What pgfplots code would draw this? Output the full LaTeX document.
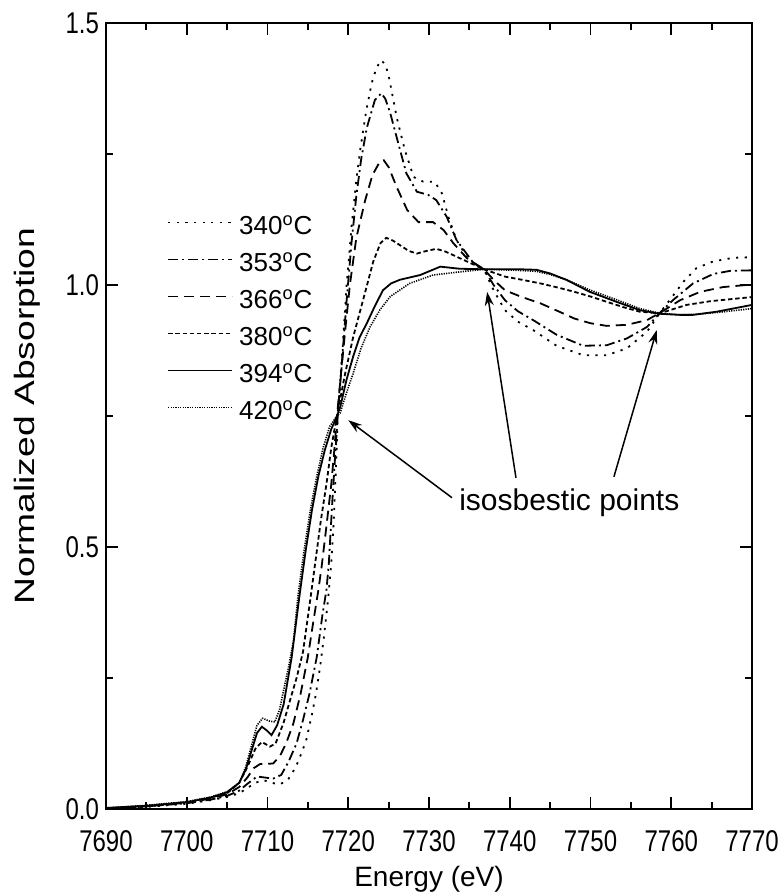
\documentclass[border=0pt]{standalone}
\usepackage{fontspec}
\setmainfont{Liberation Sans}
\newfontfamily\tickfont[FakeStretch=0.8]{Liberation Sans}
\usepackage{graphicx}
\usepackage{pgfplots}
\pgfplotsset{compat=1.18}
\usetikzlibrary{arrows.meta}

\begin{document}
\begin{tikzpicture}
\begin{axis}[
  scale only axis, width=323pt, height=393pt,
  xmin=7690, xmax=7770, ymin=0, ymax=1.5,
  xtick={7690,7700,...,7770}, minor x tick num=1,
  ytick={0,0.5,1.0,1.5}, minor y tick num=1,
  tick pos=both, tick align=inside,
  major tick length=6pt, minor tick length=3.5pt,
  axis line style={line width=1.2pt},
  tick style={black, line width=0.9pt},
  /pgf/number format/assume math mode=true,
  x tick label style={font=\tickfont\fontsize{15}{17}\selectfont, /pgf/number format/1000 sep={}, yshift=-7pt},
  y tick label style={font=\tickfont\fontsize{15}{17}\selectfont, /pgf/number format/.cd, fixed, fixed zerofill, precision=1},
  xlabel={Energy (eV)},
  ylabel={\scalebox{1.33}[1]{Normalized Absorption}},
  xlabel style={font=\fontsize{14}{16}\selectfont, at={(axis description cs:0.5,0)}, anchor=base, yshift=-38.5pt, inner sep=0pt},
  ylabel style={font=\fontsize{14}{16}\selectfont, at={(axis description cs:-0.1006,0.5)}, anchor=south, inner sep=0pt},
  legend style={at={(rel axis cs:0.0944,0.7557)}, anchor=north west, draw=none, fill=none,
    inner sep=0pt, font=\fontsize{13}{15}\selectfont, row sep=8.9pt,
    nodes={inner sep=0pt, text height=9.6pt, text depth=0pt},
    /tikz/every odd column/.append style={column sep=3pt}},
  legend cell align=left,
  legend image code/.code={\draw[#1] (0pt,1.3pt) -- (32pt,1.3pt);},
  every axis plot/.append style={black, line width=0.9pt},
]
% 340 C
\addplot[dash pattern=on 1.1pt off 3.2pt] coordinates {
(7690,0.0)(7695,0.004)(7700,0.01)(7703,0.017)(7705,0.023)(7706.5,0.03)(7707.5,0.04)(7708.5,0.05)(7709.5,0.055)(7710.5,0.05)(7711.5,0.047)(7712.5,0.055)(7713.5,0.08)(7714.3,0.11)(7714.8,0.132)(7715.5,0.18)(7716.0,0.22)(7716.5,0.27)(7717.0,0.33)(7717.5,0.40)(7717.9,0.47)(7718.2,0.55)(7718.5,0.66)(7718.7,0.75)(7719.3,0.88)(7719.8,1.0)(7720.4,1.11)(7721.0,1.20)(7721.5,1.26)(7722.2,1.33)(7722.9,1.385)(7723.5,1.415)(7724.1,1.429)(7724.6,1.42)(7725.0,1.40)(7725.5,1.36)(7726.0,1.32)(7727.0,1.258)(7728.1,1.206)(7729.3,1.197)(7730.7,1.197)(7731.6,1.175)(7732.4,1.13)(7733.4,1.086)(7734.7,1.053)(7736.0,1.036)(7736.8,1.03)(7738.0,0.99)(7739.4,0.952)(7741,0.93)(7742.9,0.914)(7745.8,0.884)(7749.1,0.866)(7752.0,0.866)(7754.5,0.879)(7757.0,0.911)(7758.6,0.947)(7759.8,0.971)(7761.5,1.006)(7763.1,1.032)(7765.2,1.045)(7767.7,1.052)(7770,1.053)
};
\addlegendentry{340\textsuperscript{o}C}
% 353 C
\addplot[dash pattern=on 5pt off 2pt on 1pt off 2pt] coordinates {
(7690,0.0)(7695,0.005)(7700,0.011)(7703,0.018)(7705,0.025)(7706.5,0.035)(7707.5,0.048)(7708.7,0.062)(7709.7,0.06)(7710.7,0.058)(7711.7,0.065)(7712.6,0.09)(7713.6,0.125)(7714.4,0.17)(7715.2,0.22)(7716.1,0.29)(7716.8,0.37)(7717.3,0.418)(7717.6,0.47)(7718.0,0.58)(7718.4,0.68)(7718.7,0.75)(7719.3,0.87)(7719.8,0.97)(7720.4,1.08)(7721.0,1.17)(7721.6,1.24)(7722.3,1.30)(7723.3,1.353)(7724.1,1.366)(7724.6,1.355)(7725.2,1.328)(7726.2,1.27)(7727.2,1.213)(7728.5,1.178)(7729.9,1.172)(7730.9,1.162)(7732.2,1.13)(7733.4,1.086)(7735.5,1.042)(7736.8,1.03)(7738.0,1.0)(7739.4,0.971)(7741,0.95)(7742.9,0.933)(7745.8,0.905)(7749.1,0.884)(7752.0,0.885)(7754.5,0.898)(7757.0,0.92)(7758.6,0.947)(7760.2,0.971)(7762.7,1.003)(7765.2,1.021)(7767.3,1.027)(7770,1.028)
};
\addlegendentry{353\textsuperscript{o}C}
% 366 C
\addplot[dash pattern=on 5pt off 3pt] coordinates {
(7690,0.0)(7695,0.005)(7700,0.012)(7703,0.02)(7705,0.028)(7706.5,0.042)(7707.5,0.06)(7708.3,0.078)(7709.1,0.086)(7710.0,0.086)(7710.7,0.087)(7711.5,0.1)(7712.3,0.125)(7713.2,0.163)(7714.1,0.22)(7715.0,0.29)(7715.7,0.36)(7716.3,0.418)(7716.7,0.462)(7717.3,0.54)(7717.9,0.62)(7718.3,0.69)(7718.6,0.75)(7719.1,0.83)(7719.6,0.91)(7720.2,1.0)(7721.0,1.09)(7722.1,1.162)(7723.0,1.21)(7723.9,1.235)(7724.4,1.238)(7725.0,1.225)(7726.0,1.187)(7727.3,1.143)(7728.7,1.12)(7730.5,1.12)(7731.8,1.105)(7733.0,1.08)(7734.7,1.051)(7736.8,1.03)(7738.0,1.01)(7739.4,0.99)(7741.5,0.977)(7743.8,0.965)(7746,0.95)(7748.0,0.936)(7750,0.927)(7752.0,0.922)(7754.5,0.924)(7757.0,0.933)(7758.6,0.947)(7761.1,0.971)(7763.6,0.987)(7766.4,0.996)(7770,1.001)
};
\addlegendentry{366\textsuperscript{o}C}
% 380 C
\addplot[dash pattern=on 2.2pt off 1.4pt] coordinates {
(7690,0.001)(7695,0.006)(7700,0.013)(7703,0.022)(7705,0.03)(7706.5,0.05)(7707.5,0.08)(7708.5,0.115)(7709.3,0.128)(7710.3,0.119)(7711.0,0.125)(7712.0,0.165)(7712.8,0.208)(7713.6,0.25)(7714.4,0.30)(7715.3,0.40)(7716.0,0.48)(7716.6,0.55)(7717.3,0.62)(7717.9,0.69)(7718.6,0.75)(7719.6,0.83)(7720.6,0.9)(7721.9,0.975)(7723.1,1.045)(7724.0,1.08)(7724.7,1.09)(7725.5,1.085)(7726.4,1.076)(7727.5,1.065)(7728.5,1.06)(7729.7,1.065)(7730.9,1.069)(7732.0,1.064)(7733.0,1.057)(7735.1,1.042)(7736.8,1.03)(7739.4,1.016)(7741.5,1.01)(7743.8,1.003)(7746,0.995)(7748.0,0.987)(7750,0.978)(7752.0,0.968)(7754,0.958)(7756.1,0.949)(7758.6,0.946)(7761.9,0.962)(7764.8,0.969)(7770,0.977)
};
\addlegendentry{380\textsuperscript{o}C}
% 394 C
\addplot[solid] coordinates {
(7690,0.002)(7695,0.006)(7700,0.013)(7703,0.022)(7705,0.032)(7706.5,0.05)(7707.3,0.075)(7708.0,0.11)(7708.7,0.145)(7709.3,0.157)(7709.9,0.15)(7710.5,0.141)(7711.2,0.16)(7712.0,0.20)(7713.0,0.29)(7713.9,0.40)(7714.7,0.49)(7715.5,0.57)(7716.3,0.635)(7717.1,0.685)(7717.9,0.725)(7718.6,0.75)(7719.0,0.767)(7719.8,0.82)(7720.6,0.863)(7721.4,0.9)(7722.3,0.927)(7723.3,0.96)(7724.3,0.99)(7725.3,1.003)(7726.4,1.01)(7728.9,1.019)(7731.4,1.035)(7733.8,1.031)(7736.8,1.03)(7741.3,1.03)(7743.3,1.029)(7745,1.022)(7747.0,1.01)(7749.9,0.987)(7753.2,0.968)(7756.1,0.952)(7758.6,0.945)(7761.1,0.943)(7762.7,0.943)(7765.6,0.949)(7770,0.962)
};
\addlegendentry{394\textsuperscript{o}C}
% 420 C
\addplot[line width=0.8pt, dash pattern=on 0.6pt off 0.6pt] coordinates {
(7690,0.002)(7695,0.007)(7700,0.014)(7703,0.023)(7705,0.033)(7706.5,0.05)(7707.3,0.08)(7708.0,0.12)(7708.7,0.16)(7709.4,0.173)(7710.2,0.168)(7710.9,0.166)(7711.5,0.19)(7712.0,0.227)(7712.6,0.27)(7713.2,0.32)(7713.8,0.41)(7714.5,0.49)(7715.3,0.57)(7716.1,0.635)(7716.9,0.69)(7717.7,0.73)(7718.6,0.75)(7719.0,0.756)(7719.8,0.795)(7720.6,0.831)(7721.6,0.88)(7722.7,0.92)(7723.9,0.952)(7725.2,0.978)(7727.6,1.003)(7730.5,1.019)(7733.8,1.025)(7736.8,1.03)(7741,1.028)(7743.3,1.026)(7745,1.02)(7747,1.01)(7750,0.99)(7753.2,0.972)(7756.1,0.955)(7758.6,0.946)(7761.1,0.943)(7763,0.944)(7766,0.948)(7770,0.955)
};
\addlegendentry{420\textsuperscript{o}C}
% annotation
\node[anchor=base west, inner sep=0pt, font=\fontsize{15}{17}\selectfont] at (axis cs:7733.7,0.569) {isosbestic points};
\draw[line width=0.75pt, -{Stealth[length=7pt,width=4.5pt]}] (axis cs:7732.85,0.594) -- (axis cs:7720.0,0.742);
\draw[line width=0.75pt, -{Stealth[length=7pt,width=4.5pt]}] (axis cs:7740.77,0.632) -- (axis cs:7737.2,0.987);
\draw[line width=0.75pt, -{Stealth[length=7pt,width=4.5pt]}] (axis cs:7752.9,0.634) -- (axis cs:7758.2,0.914);
\end{axis}
\pgfresetboundingbox
\path ([xshift=-53pt,yshift=-42pt]current axis.south west) rectangle ([xshift=12.5pt,yshift=11.5pt]current axis.north east);
\end{tikzpicture}
\end{document}
